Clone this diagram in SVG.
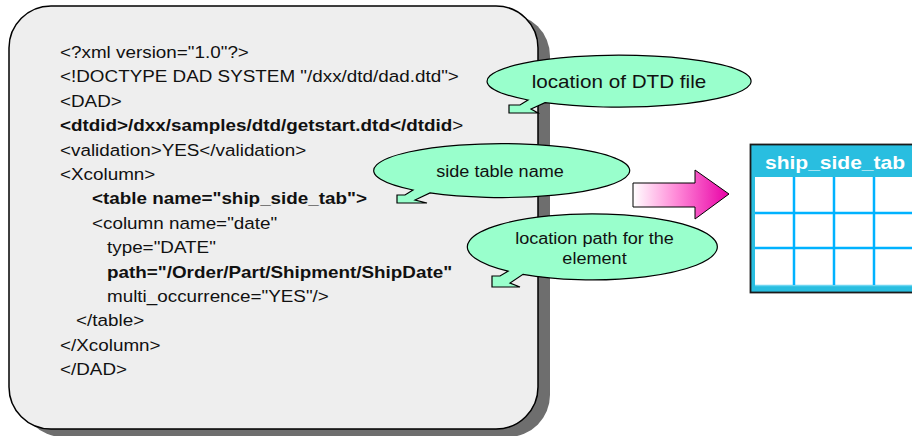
<svg xmlns="http://www.w3.org/2000/svg" width="912" height="436" viewBox="0 0 912 436">
  <defs>
    <linearGradient id="arrowFill" gradientUnits="userSpaceOnUse" x1="633" y1="0" x2="729" y2="0">
      <stop offset="0" stop-color="#FFFFFF"/>
      <stop offset="0.45" stop-color="#FF8AD8"/>
      <stop offset="1" stop-color="#E800A6"/>
    </linearGradient>
  </defs>
  <style>
    .code { font-family: "Liberation Sans", Arial, sans-serif; font-size: 16.7px; fill: #111; }
    .b { font-weight: bold; }
    .n { font-weight: normal; }
    .bubble { fill: #99FFCC; stroke: #000; stroke-width: 1.2; }
    .btext { font-family: "Liberation Sans", Arial, sans-serif; font-size: 16px; fill: #111; text-anchor: middle; }
    .grid { stroke: #00B2FF; stroke-width: 2.5; }
  </style>

  <rect width="912" height="436" fill="#FFFFFF"/>

  <!-- DAD document panel -->
  <g id="dad-doc">
    <path transform="translate(12 8)" fill="#6E6E6E" d="M51,6 H496 A42,42 0 0 1 538,48 V387 A42,42 0 0 1 496,429 H51 A42,42 0 0 1 9,387 V48 A42,42 0 0 1 51,6 Z"/>
    <path fill="#EEEEEE" stroke="#000" stroke-width="1.5" d="M51,6 H496 A42,42 0 0 1 538,48 V387 A42,42 0 0 1 496,429 H51 A42,42 0 0 1 9,387 V48 A42,42 0 0 1 51,6 Z"/>
    <g transform="translate(60 0) scale(1.13 1)">
      <text class="code" x="0" y="58">&lt;?xml version="1.0"?&gt;</text>
      <text class="code" x="0" y="82.4">&lt;!DOCTYPE DAD SYSTEM "/dxx/dtd/dad.dtd"&gt;</text>
      <text class="code" x="0" y="106.8">&lt;DAD&gt;</text>
      <text class="code b" x="0" y="131.2">&lt;dtdid&gt;/dxx/samples/dtd/getstart.dtd&lt;/dtdid<tspan class="n">&gt;</tspan></text>
      <text class="code" x="0" y="155.6">&lt;validation&gt;YES&lt;/validation&gt;</text>
      <text class="code" x="0" y="180">&lt;Xcolumn&gt;</text>
      <text class="code b" x="28.3" y="204.4">&lt;table name="ship_side_tab"&gt;</text>
      <text class="code" x="28.3" y="228.8">&lt;column name="date"</text>
      <text class="code" x="41.6" y="253.2">type="DATE"</text>
      <text class="code b" x="41.6" y="277.6">path="/Order/Part/Shipment/ShipDate"</text>
      <text class="code" x="41.6" y="302">multi_occurrence="YES"/&gt;</text>
      <text class="code" x="14.2" y="326.4">&lt;/table&gt;</text>
      <text class="code" x="0" y="350.8">&lt;/Xcolumn&gt;</text>
      <text class="code" x="0" y="375.2">&lt;/DAD&gt;</text>
    </g>
  </g>

  <!-- callout: DTD location -->
  <g id="callout-dtd">
    <path class="bubble" d="M528,100 A132,26 0 1 1 545,102.7 L531,109 L538,113 L509,113 L509,105 L520,105 Z"/>
    <text class="btext" transform="translate(619 88) scale(1.13 1)" x="0" y="0" style="font-size:18.3px">location of DTD file</text>
  </g>

  <!-- callout: side table name -->
  <g id="callout-side">
    <path class="bubble" d="M413,190 A128,27 0 1 1 430,192.9 L415,200 L427,203 L397,203 L397,195 L405,195 Z"/>
    <text class="btext" transform="translate(500 176.5) scale(1.13 1)" x="0" y="0">side table name</text>
  </g>

  <!-- callout: location path -->
  <g id="callout-path">
    <path class="bubble" d="M508,271.2 A125,33 0 1 1 523,274.3 L510,283 L520,287 L492,287 L492,276 L500,276 Z"/>
    <text class="btext" transform="translate(594.5 244) scale(1.13 1)" x="0" y="0">location path for the</text>
    <text class="btext" transform="translate(594.5 264) scale(1.13 1)" x="0" y="0">element</text>
  </g>

  <!-- connectors -->
  <g id="connectors">
    <path fill="url(#arrowFill)" stroke="#000" stroke-width="1" d="M633,183 H695 V170 L729,194 L695,219 V207 H633 Z"/>
  </g>

  <!-- side table -->
  <g id="side-table">
    <rect x="750.5" y="144.5" width="175" height="148" fill="#29BEE0" stroke="#1A1A1A" stroke-width="1.8"/>
    <rect x="755" y="177" width="170" height="108" fill="#FFFFFF"/>
    <line x1="755" y1="285.5" x2="912" y2="285.5" stroke="#6FD6F2" stroke-width="1.5"/>
    <line class="grid" x1="794" y1="177" x2="794" y2="285"/>
    <line class="grid" x1="834" y1="177" x2="834" y2="285"/>
    <line class="grid" x1="874" y1="177" x2="874" y2="285"/>
    <line class="grid" x1="755" y1="213" x2="912" y2="213"/>
    <line class="grid" x1="755" y1="248" x2="912" y2="248"/>
    <text transform="translate(835 169) scale(1.13 1)" x="0" y="0" style="font-family:'Liberation Sans', Arial, sans-serif;font-size:18.6px;font-weight:bold;fill:#FFFFFF;text-anchor:middle">ship_side_tab</text>
  </g>
</svg>
